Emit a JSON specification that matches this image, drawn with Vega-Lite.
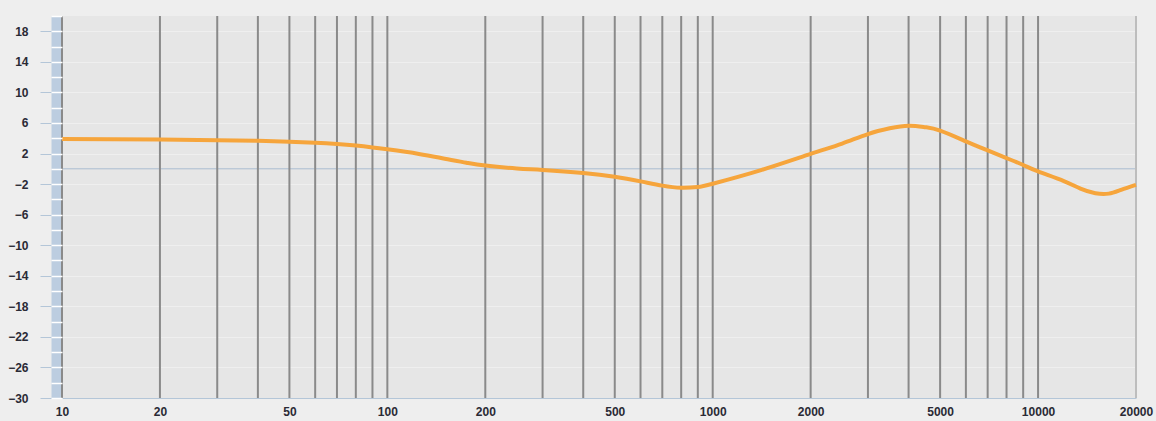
{
  "$schema": "https://vega.github.io/schema/vega-lite/v6.json",
  "width": 1074,
  "height": 382,
  "autosize": {"type": "none"},
  "padding": {"left": 62, "top": 16, "right": 20, "bottom": 23},
  "background": "#eeeeee",
  "config": {
    "view": {"fill": "#e6e6e6", "stroke": null},
    "axis": {"labelFont": "Liberation Sans", "labelFontSize": 12, "labelFontWeight": "bold", "labelColor": "#2a2a35"}
  },
  "layer": [
    {
      "data": {"values": [{"db": 0}]},
      "mark": {"type": "rule", "color": "#aabdd0", "strokeWidth": 1},
      "encoding": {
        "y": {
          "field": "db", "type": "quantitative",
          "scale": {"domain": [-30, 20], "nice": false, "zero": false},
          "axis": {
            "orient": "left", "offset": 0, "title": null, "domain": false, "labels": false, "grid": false,
            "ticks": true, "tickSize": 11, "tickColor": "#ffffff", "tickWidth": 1.5,
            "values": [-30,-28,-26,-24,-22,-20,-18,-16,-14,-12,-10,-8,-6,-4,-2,0,2,4,6,8,10,12,14,16,18,20],
            "zindex": 1
          }
        }
      }
    },
    {
      "data": {"values": [
        {"f": 10}, {"f": 20}, {"f": 30}, {"f": 40}, {"f": 50}, {"f": 60}, {"f": 70}, {"f": 80}, {"f": 90},
        {"f": 100}, {"f": 200}, {"f": 300}, {"f": 400}, {"f": 500}, {"f": 600}, {"f": 700}, {"f": 800}, {"f": 900},
        {"f": 1000}, {"f": 2000}, {"f": 3000}, {"f": 4000}, {"f": 5000}, {"f": 6000}, {"f": 7000}, {"f": 8000}, {"f": 9000},
        {"f": 10000}, {"f": 20000}
      ]},
      "mark": {"type": "rule", "strokeWidth": 2},
      "encoding": {
        "x": {"field": "f", "type": "quantitative", "scale": {"type": "log", "domain": [10, 20000], "nice": false}},
        "color": {"condition": {"test": "datum.f == 20000", "value": "#bdbdbd"}, "value": "#8a8a8a"}
      }
    },
    {
      "data": {"values": [
        {"f": 10, "db": 3.9}, {"f": 20, "db": 3.83}, {"f": 30, "db": 3.75},
        {"f": 40, "db": 3.66}, {"f": 50, "db": 3.55}, {"f": 60, "db": 3.42}, {"f": 70, "db": 3.25},
        {"f": 80, "db": 3.04}, {"f": 90, "db": 2.8}, {"f": 100, "db": 2.55}, {"f": 125, "db": 1.95},
        {"f": 150, "db": 1.32}, {"f": 175, "db": 0.8}, {"f": 200, "db": 0.42}, {"f": 250, "db": 0.05},
        {"f": 300, "db": -0.15}, {"f": 400, "db": -0.55}, {"f": 500, "db": -1.05}, {"f": 600, "db": -1.65},
        {"f": 700, "db": -2.2}, {"f": 800, "db": -2.48}, {"f": 900, "db": -2.38}, {"f": 1000, "db": -1.95},
        {"f": 1400, "db": -0.2}, {"f": 2000, "db": 1.95}, {"f": 2500, "db": 3.3}, {"f": 3000, "db": 4.55},
        {"f": 3500, "db": 5.3}, {"f": 4000, "db": 5.65}, {"f": 4500, "db": 5.45}, {"f": 5000, "db": 5.0},
        {"f": 6000, "db": 3.6}, {"f": 7000, "db": 2.4}, {"f": 8000, "db": 1.4}, {"f": 9000, "db": 0.5},
        {"f": 10000, "db": -0.35}, {"f": 12000, "db": -1.6}, {"f": 13500, "db": -2.6}, {"f": 15000, "db": -3.2},
        {"f": 16500, "db": -3.25}, {"f": 18000, "db": -2.75}, {"f": 20000, "db": -2.1}
      ]},
      "mark": {"type": "line", "color": "#f6a53c", "strokeWidth": 4, "interpolate": "natural", "strokeCap": "butt"},
      "encoding": {
        "x": {
          "field": "f", "type": "quantitative",
          "scale": {"type": "log", "domain": [10, 20000], "nice": false},
          "axis": {
            "orient": "bottom", "title": null, "grid": false, "ticks": false,
            "domain": true, "domainColor": "#b4c6d8", "domainWidth": 1,
            "values": [10, 20, 50, 100, 200, 500, 1000, 2000, 5000, 10000, 20000],
            "format": "d", "labelFlush": false, "labelOverlap": false, "labelPadding": 8,
            "zindex": 1
          }
        },
        "y": {
          "field": "db", "type": "quantitative",
          "scale": {"domain": [-30, 20], "nice": false, "zero": false},
          "axis": {
            "orient": "left", "offset": 5.5, "title": null,
            "values": [18, 14, 10, 6, 2, -2, -6, -10, -14, -18, -22, -26, -30],
            "domain": true, "domainColor": "#bccde0", "domainWidth": 11, "domainCap": "butt",
            "ticks": true, "tickSize": 16.5, "tickColor": "#b4c6d8", "tickWidth": 1,
            "labelPadding": 12, "labelOverlap": false, "labelFlush": false,
            "grid": true, "gridColor": "#efefef", "gridWidth": 1
          }
        }
      }
    }
  ],
  "resolve": {"axis": {"y": "independent"}}
}
